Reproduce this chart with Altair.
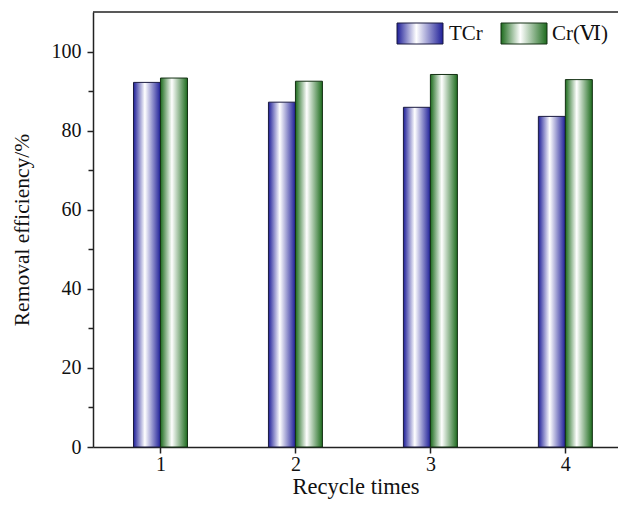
import altair as alt
import pandas as pd

cycles = [1, 2, 3, 4]
tcr = [92.2, 87.2, 85.9, 83.6]
cr6 = [93.3, 92.5, 94.2, 92.9]
series = ["TCr", "Cr(Ⅵ)"]
y_ticks = [0, 10, 20, 30, 40, 50, 60, 70, 80, 90, 100]

FONT = "Liberation Serif"

rows = []
for c, a, b in zip(cycles, tcr, cr6):
    rows.append({"cycle": c, "series": series[0], "value": a, "base": 0, "x0": c - 0.2, "x1": c})
    rows.append({"cycle": c, "series": series[1], "value": b, "base": 0, "x0": c, "x1": c + 0.2})
df = pd.DataFrame(rows)


def grad(col):
    return alt.Gradient(
        gradient="linear", x1=0, x2=1, y1=0, y2=0,
        stops=[alt.GradientStop(color=col, offset=0),
               alt.GradientStop(color="#ffffff", offset=0.42),
               alt.GradientStop(color=col, offset=1)])


blue = grad("#1e1e98")
green = grad("#1d6b1d")

xscale = alt.Scale(domain=[0.5, 4.39], nice=False, zero=False)
yscale = alt.Scale(domain=[0, 110], nice=False)

xaxis = alt.Axis(values=cycles, format="d", title="Recycle times", grid=False,
                 labelFont=FONT, labelFontSize=20, labelColor="#111",
                 titleFont=FONT, titleFontSize=22.5, titleFontWeight="normal", titleColor="#111",
                 titleBaseline="alphabetic", titleY=46.5,
                 tickSize=6, tickColor="#222", tickWidth=1.5, domainColor="#222", domainWidth=1.5,
                 labelPadding=1)
yaxis = alt.Axis(values=y_ticks, title="Removal efficiency/%", grid=False,
                 labelExpr="datum.value % 20 == 0 ? datum.label : ''",
                 tickSize={"condition": {"test": "datum.value % 20 == 0", "value": 6}, "value": 5},
                 labelFont=FONT, labelFontSize=20, labelColor="#111",
                 titleFont=FONT, titleFontSize=21.5, titleFontWeight="normal", titleColor="#111",
                 tickColor="#222", tickWidth=1.5, domainColor="#222", domainWidth=1.5,
                 labelPadding=6, titlePadding=18)

base = alt.Chart(df)

bars_tcr = base.transform_filter(alt.datum.series == series[0]).mark_bar(
    color=blue, stroke="#1a1a40", strokeWidth=1).encode(
    x=alt.X("x0:Q", scale=xscale, axis=xaxis), x2="x1:Q",
    y=alt.Y("value:Q", scale=yscale, axis=yaxis), y2="base:Q")

bars_cr = base.transform_filter(alt.datum.series == series[1]).mark_bar(
    color=green, stroke="#143014", strokeWidth=1).encode(
    x=alt.X("x0:Q", scale=xscale), x2="x1:Q",
    y=alt.Y("value:Q", scale=yscale), y2="base:Q")

top = alt.Chart(pd.DataFrame({"y": [110]})).mark_rule(color="#222", strokeWidth=1.5).encode(
    y=alt.Y("y:Q", scale=yscale))

leg_df = pd.DataFrame({"k": [0]})
leg1 = alt.Chart(leg_df).mark_rect(color=blue, stroke="#1a1a40", strokeWidth=1).encode(
    x=alt.value(304), x2=alt.value(350), y=alt.value(11), y2=alt.value(32))
leg2 = alt.Chart(leg_df).mark_rect(color=green, stroke="#143014", strokeWidth=1).encode(
    x=alt.value(408), x2=alt.value(454), y=alt.value(11), y2=alt.value(32))
t1 = alt.Chart(leg_df).mark_text(text=series[0], font=FONT, fontSize=21, align="left",
                                  baseline="middle", color="#111").encode(
    x=alt.value(356), y=alt.value(22))
t2 = alt.Chart(leg_df).mark_text(text=series[1], font="'Liberation Serif', 'DejaVu Serif', serif",
                                  fontSize=21, align="left",
                                  baseline="middle", color="#111").encode(
    x=alt.value(459), y=alt.value(22))

chart = alt.layer(bars_tcr, bars_cr, top, leg1, leg2, t1, t2).properties(
    width=525, height=435,
    autosize=alt.AutoSizeParams(type="none"),
    padding={"left": 85, "top": 4, "right": 0, "bottom": 52},
    background="white",
).configure_view(stroke=None)

chart.save("out.html", embed_options={"renderer": "svg", "actions": False})
